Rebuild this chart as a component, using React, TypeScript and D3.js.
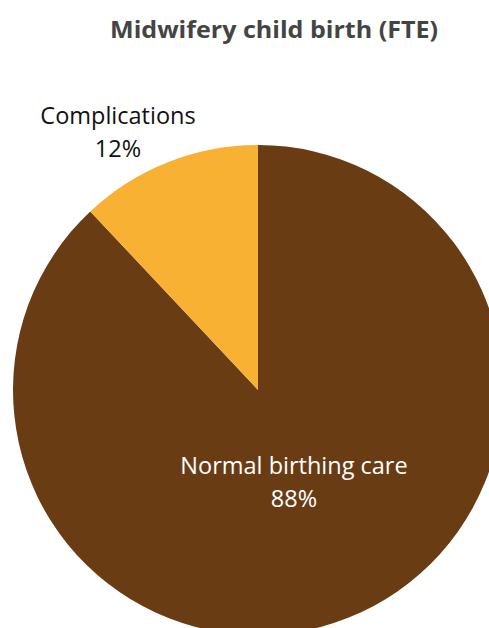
import React from "react";
import * as d3 from "d3";

const categories = ["Normal birthing care", "Complications"];
const values = [88, 12];
const colors = ["#6A3C14", "#F8B133"];

const W = 489;
const H = 628;

export default function App() {
  const cx = 258;
  const cy = 390;
  const r = 245;
  const total = d3.sum(values);
  const pie = d3
    .pie<number>()
    .sort(null)
    .startAngle(0)
    .endAngle(2 * Math.PI)(values);
  const arc = d3.arc<d3.PieArcDatum<number>>().innerRadius(0).outerRadius(r);

  return (
    <svg
      width={W}
      height={H}
      style={{ position: "fixed", left: 0, top: 0, background: "#fff" }}
    >
      <text
        x={274}
        y={38}
        textAnchor="middle"
        fontFamily="Open Sans, sans-serif"
        fontWeight={700}
        fontSize={24}
        textLength={328}
        lengthAdjust="spacingAndGlyphs"
        fill="#444"
      >
        Midwifery child birth (FTE)
      </text>
      <g transform={`translate(${cx},${cy})`}>
        {pie.map((d, i) => (
          <path key={i} d={arc(d) || ""} fill={colors[i]} />
        ))}
      </g>
      <g fontFamily="Open Sans, sans-serif" fontSize={23.5}>
        <text x={118} y={124} textAnchor="middle" fill="#111">
          {categories[1]}
        </text>
        <text x={118} y={157} textAnchor="middle" fill="#111">
          {Math.round((values[1] / total) * 100)}%
        </text>
        <text x={294} y={474} textAnchor="middle" fill="#fff">
          {categories[0]}
        </text>
        <text x={294} y={507} textAnchor="middle" fill="#fff">
          {Math.round((values[0] / total) * 100)}%
        </text>
      </g>
    </svg>
  );
}
